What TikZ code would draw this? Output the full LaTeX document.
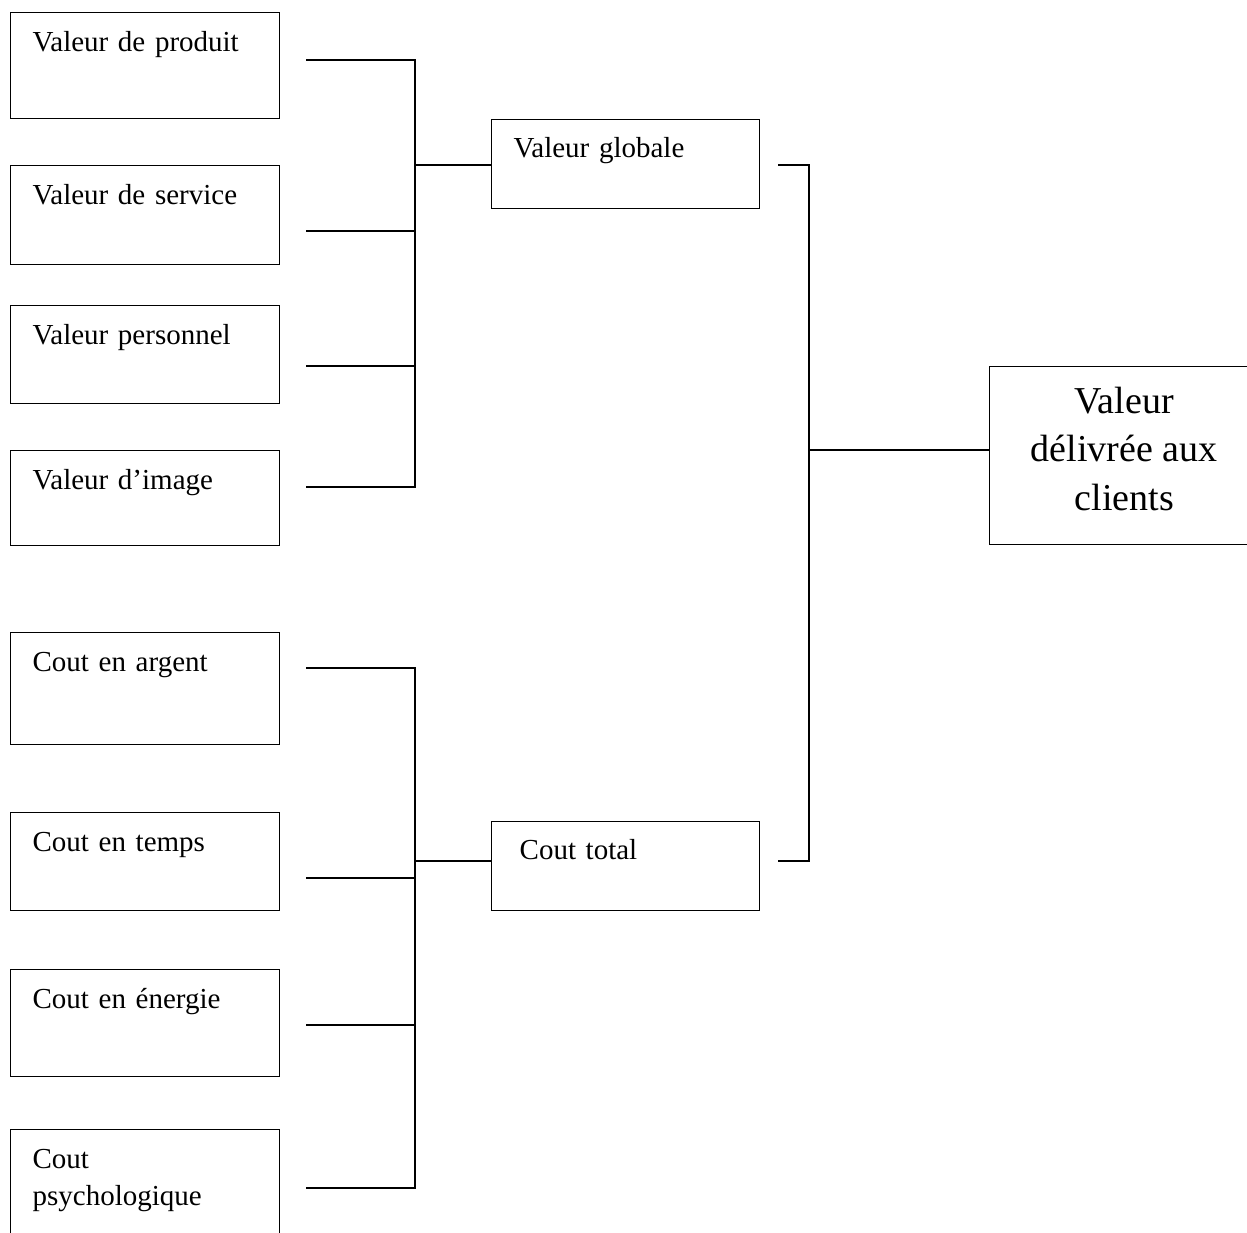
\documentclass[tikz,border=0pt]{standalone}
\usepackage{fontspec}
\setmainfont{Liberation Serif}
\usetikzlibrary{calc,positioning}
\tikzset{
   partbox/.style={draw, rectangle, anchor=north west, align=left, inner xsep=22pt, inner ysep=0pt,
      text width=225pt, text height=39pt, text depth=#1, font=\fontsize{29}{37}\selectfont},
   partbox/.default=60pt,
   groupbox/.style={draw, rectangle, anchor=north west, align=left, inner xsep=22pt, inner ysep=0pt,
      text width=224pt, text height=38pt, text depth=51pt, font=\fontsize{29}{37}\selectfont},
   resultbox/.style={draw, rectangle, anchor=north west, align=center, inner sep=0pt, text depth=14pt,
      minimum width=269pt, minimum height=178pt, font=\fontsize{38}{48.5}\selectfont},
}
\begin{document}
\begin{tikzpicture}[x=1pt, y=-1pt, line width=1.3pt]
\clip (0,0) rectangle (1247,1232);

% valeur
\node[partbox=67pt] (vprod) at (10,12) {Valeur de produit};
\node[partbox=60pt] (vserv) at (10,165) {Valeur de service};
\node[partbox=59pt] (vpers) at (10,305) {Valeur personnel};
\node[partbox=56pt] (vimg) at (10,450) {Valeur d’image};
% cout
\node[partbox=73pt] (carg) at (10,632) {Cout en argent};
\node[partbox=59pt] (ctemps) at (10,812) {Cout en temps};
\node[partbox=68pt] (cener) at (10,969) {Cout en énergie};
\node[partbox=90pt] (cpsy) at (10,1129) {Cout\\psychologique};

\node[groupbox] (vglob) at (491,119) {Valeur globale};
\node[groupbox] (ctot) at (491,821) {\hspace*{6pt}Cout total};
\node[resultbox] (vdel) at (989,366) {Valeur\\délivrée aux\\clients};

\coordinate (jv) at (415,165);
\coordinate (jc) at (415,861);
\coordinate (jr) at (809,450);
\foreach \n/\y in {1/60,2/231,3/366,4/487,5/668,6/878,7/1025,8/1188}
  \coordinate (s\n) at (306,\y);

\draw (s1) -- (s1 -| jv) -- (s4 -| jv) -- (s4);
\foreach \n in {2,3} \draw (s\n) -- (s\n -| jv);
\draw (jv) -- (jv -| vglob.west);

\draw (s5) -- (s5 -| jc) -- (s8 -| jc) -- (s8);
\foreach \n in {6,7} \draw (s\n) -- (s\n -| jc);
\draw (jc) -- (jc -| ctot.west);

\draw ($(jv -| vglob.east)+(18,0)$) -- (jv -| jr) -- (jc -| jr) -- ($(jc -| ctot.east)+(18,0)$);
\draw (jr) -- (jr -| vdel.west);
\end{tikzpicture}
\end{document}
